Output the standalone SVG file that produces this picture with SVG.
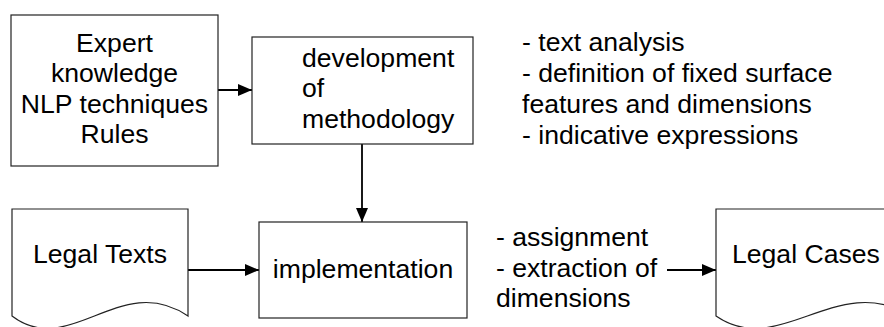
<svg xmlns="http://www.w3.org/2000/svg" width="884" height="327" viewBox="0 0 884 327">
<style>
text{font-family:"Liberation Sans",Arial,sans-serif;font-size:26.6px;fill:#000}
.box{fill:#fff;stroke:#222;stroke-width:1.2}
.c{fill:none;stroke:#000;stroke-width:1.8}
.m{text-anchor:middle}
</style>
<defs>
<marker id="ah" markerUnits="userSpaceOnUse" markerWidth="15" markerHeight="13" refX="14" refY="6" orient="auto">
<path d="M0,0 L14,6 L0,12 z" fill="#000"/>
</marker>
</defs>
<rect width="884" height="327" fill="#fff"/>
<g id="connectors">
<line class="c" x1="218" y1="90" x2="252" y2="90" marker-end="url(#ah)"/>
<line class="c" x1="362" y1="144" x2="362" y2="222" marker-end="url(#ah)"/>
<line class="c" x1="188" y1="270" x2="259" y2="270" marker-end="url(#ah)"/>
<line class="c" x1="667" y1="270" x2="716" y2="270" marker-end="url(#ah)"/>
</g>
<g id="expert">
<rect class="box" x="11" y="15" width="207" height="151"/>
<text class="m" x="114.5" y="52">Expert</text>
<text class="m" x="114.5" y="82">knowledge</text>
<text class="m" x="114.5" y="113">NLP techniques</text>
<text class="m" x="114.5" y="143">Rules</text>
</g>
<g id="development">
<rect class="box" x="252" y="37" width="221" height="107"/>
<text x="302" y="67">development</text>
<text x="302" y="97">of</text>
<text x="302" y="128">methodology</text>
</g>
<g id="notes-top">
<text x="522" y="51">- text analysis</text>
<text x="522" y="82">- definition of fixed surface</text>
<text x="522" y="113">features and dimensions</text>
<text x="522" y="144">- indicative expressions</text>
</g>
<g id="legal-texts">
<path class="box" d="M12,209 H188 V316 C120,270 70,360 12,316 Z"/>
<text class="m" x="100" y="263">Legal Texts</text>
</g>
<g id="implementation">
<rect class="box" x="259" y="222" width="208" height="96"/>
<text class="m" x="363" y="278">implementation</text>
</g>
<g id="notes-bottom">
<text x="496" y="246">- assignment</text>
<text x="496" y="277">- extraction of</text>
<text x="496" y="307">dimensions</text>
</g>
<g id="legal-cases">
<path class="box" d="M716,209 H912 V316 C836,270 780,360 716,316 Z"/>
<text x="732" y="263">Legal Cases</text>
</g>
</svg>
